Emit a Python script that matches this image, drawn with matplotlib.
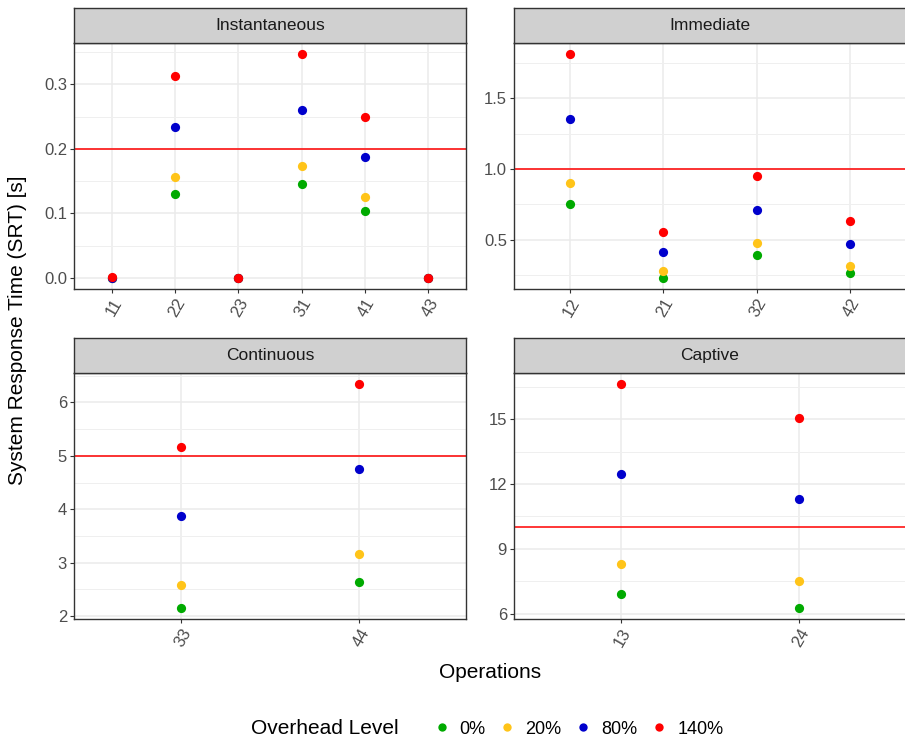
import matplotlib
matplotlib.use("Agg")
import matplotlib.pyplot as plt
from matplotlib.lines import Line2D
from matplotlib.offsetbox import HPacker
import numpy as np

plt.rcParams['font.family'] = ['Liberation Sans', 'DejaVu Sans']

levels = ["0%", "20%", "80%", "140%"]
level_colors = ["#00AA00", "#FFC419", "#0000CC", "#FF0000"]

panel_titles = ["Instantaneous", "Immediate", "Continuous", "Captive"]
thresholds = [0.2, 1.0, 5.0, 10.0]

inst_ops = ["11", "22", "23", "31", "41", "43"]
inst_0 = [0.0, 0.130, 0.0, 0.145, 0.104, 0.0]
inst_20 = [0.0, 0.157, 0.0, 0.174, 0.125, 0.0]
inst_80 = [0.0, 0.234, 0.0, 0.260, 0.188, 0.0]
inst_140 = [0.001, 0.313, 0.0, 0.347, 0.250, 0.0]

imm_ops = ["12", "21", "32", "42"]
imm_0 = [0.753, 0.229, 0.393, 0.261]
imm_20 = [0.903, 0.275, 0.473, 0.315]
imm_80 = [1.358, 0.412, 0.711, 0.471]
imm_140 = [1.814, 0.553, 0.948, 0.631]

cont_ops = ["33", "44"]
cont_0 = [2.155, 2.639]
cont_20 = [2.584, 3.167]
cont_80 = [3.875, 4.751]
cont_140 = [5.168, 6.342]

capt_ops = ["13", "24"]
capt_0 = [6.90, 6.28]
capt_20 = [8.30, 7.53]
capt_80 = [12.45, 11.30]
capt_140 = [16.61, 15.06]

panels = [
    (inst_ops, [inst_0, inst_20, inst_80, inst_140], [0.0, 0.1, 0.2, 0.3], ["0.0", "0.1", "0.2", "0.3"]),
    (imm_ops, [imm_0, imm_20, imm_80, imm_140], [0.5, 1.0, 1.5], ["0.5", "1.0", "1.5"]),
    (cont_ops, [cont_0, cont_20, cont_80, cont_140], [2, 3, 4, 5, 6], ["2", "3", "4", "5", "6"]),
    (capt_ops, [capt_0, capt_20, capt_80, capt_140], [6, 9, 12, 15], ["6", "9", "12", "15"]),
]

W, H = 905, 738
fig = plt.figure(figsize=(W / 100, H / 100), dpi=100)

# pixel boxes: left, right, top, bottom
boxes = [
    (74, 466, 43, 289),
    (514, 906, 43, 289),
    (74, 466, 373, 619),
    (514, 906, 373, 619),
]
strip_h = 35
edge = "#333333"

for (ops, series, yt, ytl), title, thr, (l, r, t, b) in zip(panels, panel_titles, thresholds, boxes):
    ax = fig.add_axes([l / W, 1 - b / H, (r - l) / W, (b - t) / H])
    x = np.arange(len(ops))
    allv = np.concatenate([np.array(s) for s in series])
    lo, hi = allv.min(), allv.max()
    pad = 0.05 * (hi - lo)
    ax.set_yticks(yt)
    ax.set_yticklabels(ytl)
    step = yt[1] - yt[0]
    minor = [yt[0] - step / 2] + [(yt[i] + yt[i + 1]) / 2 for i in range(len(yt) - 1)] + [yt[-1] + step / 2]
    ax.set_yticks(minor, minor=True)
    ax.set_xticks(x)
    ax.set_xticklabels(ops, rotation=60, ha="right", va="top", rotation_mode="anchor")
    ax.set_ylim(lo - pad, hi + pad)
    ax.set_xlim(-0.6, len(ops) - 0.4)
    ax.grid(True, which="major", color="#EBEBEB", lw=1.1, zorder=0)
    ax.grid(True, which="minor", axis="y", color="#EFEFEF", lw=0.7, zorder=0)
    ax.tick_params(which="minor", length=0)
    ax.tick_params(which="major", length=3, width=0.8, color=edge, labelsize=12,
                   labelcolor="#4D4D4D", pad=2)
    ax.set_axisbelow(True)
    ax.axhline(thr, color="#FF0000", lw=1.1, zorder=2)
    for s, c in zip(series, level_colors):
        ax.scatter(x, s, s=44, color=c, zorder=3, linewidths=0)
    for sp in ax.spines.values():
        sp.set_color(edge)
        sp.set_linewidth(1.0)
    # strip
    sax = fig.add_axes([l / W, 1 - t / H, (r - l) / W, strip_h / H])
    sax.set_facecolor("#D0D0D0")
    sax.set_xticks([])
    sax.set_yticks([])
    for sp in sax.spines.values():
        sp.set_color(edge)
        sp.set_linewidth(1.0)
    sax.text(0.5, 0.5, title, ha="center", va="center", fontsize=12.5, color="#1A1A1A",
             transform=sax.transAxes)

fig.text(18 / W, 1 - 330 / H, "System Response Time (SRT) [s]", rotation=90,
         ha="center", va="center", fontsize=15, color="black")
fig.text(490 / W, 1 - 672 / H, "Operations", ha="center", va="center", fontsize=15, color="black")

handles = [Line2D([], [], marker="o", linestyle="", markersize=6, markerfacecolor=c,
                  markeredgewidth=0, label=lv) for c, lv in zip(level_colors, levels)]
leg = fig.legend(handles=handles, loc="center", bbox_to_anchor=(487 / W, 1 - 729 / H),
                 ncol=4, frameon=False, fontsize=13, title="Overhead Level",
                 title_fontsize=15, handletextpad=0.3, columnspacing=0.5, handlelength=1.4)
title_box = leg._legend_title_box
handle_box = leg._legend_handle_box
leg._legend_box._children = [HPacker(pad=0, sep=22, align="center", children=[title_box, handle_box])]

fig.savefig("out.png", dpi=100, facecolor="white")
